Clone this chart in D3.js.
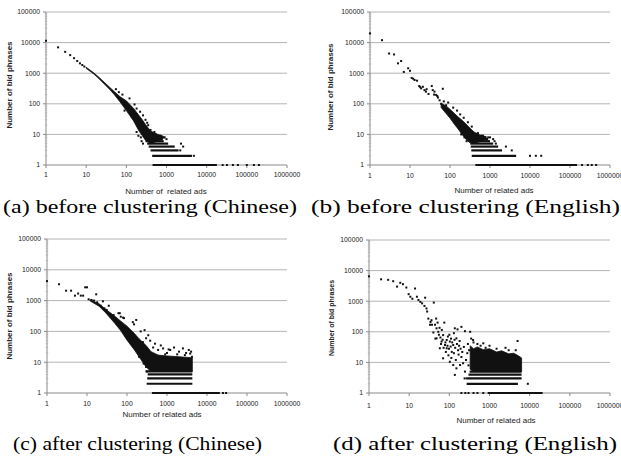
<!DOCTYPE html>
<html>
<head>
<meta charset="utf-8">
<script src="https://cdn.jsdelivr.net/npm/d3@7"></script>
<style>
  body { margin: 0; background: #fff; }
  .sans { font-family: Arial, 'Liberation Sans', sans-serif; }
  .caption { font-family: 'Liberation Serif', 'Times New Roman', serif; }
</style>
</head>
<body>
<div class="canvas"></div>
<script>
// tick values shared by all four panels
const xTicks = [1, 10, 100, 1000, 10000, 100000, 1000000];
const yTicks = [1, 10, 100, 1000, 10000, 100000];

// (a) before clustering (Chinese)
// sparse points [related ads, bid phrases]
const ptsA = [[1,11500],[2,7000],[3,5000],[4,3900],[5,3100],[6,2500],[7,2100],[8,1850],[9,1650],
  [55,300],[65,240],[80,200],[120,150],[90,60],[160,95],[180,70],[220,55],[260,42],[300,30],[330,24],
  [350,20],[280,16],[400,14],[450,11],[500,12],[550,10],[600,9],[700,9],[800,8],[850,8],[900,8],
  [200,9],[240,6],[260,5],[180,12],[230,8],[1000,7],[2300,5],[2600,4],[4800,2],[2200,3]];
// dense ribbon [related ads, low, high]
const bandA = [[10,1440,1560],[15,970,1060],[20,700,770],[30,410,470],[40,280,330],[50,200,250],
  [70,115,170],[100,60,125],[150,28,72],[200,14,44],[250,9,30],[300,6.5,21],[400,5,13],[600,6,10],[800,7,9]];
// integer rows [bid phrases, from, to]
const rowsA = [[1,450,18000],[2,440,4300],[3,400,2000],[4,360,1600],[5,330,1100],[6,300,850],
  [7,290,800],[8,280,700],[9,260,650]];
const tailA = [[25000,1],[32000,1],[45000,1],[60000,1],[100000,1],[150000,1],[200000,1]];

// (b) before clustering (English)
const ptsB = [[1,20000],[2,12000],[3,4400],[4,4100],[5,2100],[6,2500],[7,1100],[9,1450],[10,1200],
  [11,700],[12,660],[13,600],[15,570],[17,380],[18,350],[19,320],[21,360],[23,280],[25,250],[26,300],
  [29,210],[35,380],[37,280],[40,200],[41,250],[45,195],[48,180],[50,160],[55,130],[60,100],[66,310],
  [70,120],[80,90],[90,110],[120,75],[150,60],[180,45],[220,35],[280,25],[350,18],[450,10],[500,11],
  [650,9],[900,8],[1000,8],[1200,7],[190,10],[230,8],[260,6],[1400,5],[1300,6]];
const bandB = [[60,75,105],[80,48,85],[100,34,66],[130,21,48],[160,15,37],[200,10,29],[250,7,22],
  [300,5.5,17],[400,5,12],[600,6,9],[800,7,8.5]];
const rowsB = [[1,430,150000],[2,350,4500],[3,340,2000],[4,330,1600],[5,320,1200],[6,310,1000],
  [7,300,900],[8,290,800],[9,280,700]];
const tailB = [[10000,2],[14000,2],[19000,2],[3500,3],[2500,4],[200000,1],[280000,1],[350000,1],[450000,1]];

// (c) after clustering (Chinese)
const ptsC = [[1,4300],[2,3400],[3,2100],[4,2100],[5,1450],[6,1700],[7,1450],[8,1450],[9,2700],[10,2700],
  [11,1100],[13,1050],[15,1000],[17,1600],[18,880],[22,680],[25,950],[27,560],[31,500],[35,680],
  [46,340],[61,390],[66,390],[70,300],[80,280],[84,270],[140,200],[150,170],[170,235],[220,100],
  [275,110],[340,75],[300,60],[250,45],[380,50],[450,30],[500,40],[600,25],[700,35],[800,28],[1000,20],
  [1200,25],[1500,30],[2000,22],[2500,28],[3000,20],[3500,25],[4000,22],[900,18],[1800,18],[4200,15],
  [200,15],[260,9],[300,7],[320,5],[1100,26],[2800,17],[3800,19]];
const bandC = [[12,970,1070],[20,660,790],[30,390,510],[50,180,310],[70,105,215],[100,52,148],
  [150,26,88],[200,15,58],[300,7,35],[400,5,22],[600,5,17],[1000,5,16],[2000,5,15],[4300,5,14]];
const rowsC = [[1,420,21000],[2,310,4300],[3,320,4300],[4,330,4300],[5,290,4300]];
const tailC = [[25000,1],[30000,1]];

// (d) after clustering (English)
const ptsD = [[1,6500],[2,5200],[3,5000],[4,4500],[5,3000],[6,4000],[7,3600],[8.5,2800],[9.7,1700],
  [10.7,1400],[12,1200],[14,2600],[15.6,1400],[17,1100],[19,950],[21,850],[24,700],[25,1300],[27,580],
  [28,460],[30,270],[33,170],[34,210],[36,240],[37,170],[41,900],[44,170],[47,270],[48,130],[48,61],
  [51,200],[53,100],[57,135],[58,29],[64,48],[65,115],[70,78],[70,13.6],[75,200],[78,37],[86,54],
  [86,29],[95,17],[103,48],[103,10.5],[115,22],[125,37],[125,8.2],[137,130],[137,3.9],[150,61],
  [150,6.4],[160,120],[165,25],[185,8.2],[200,15],[200,145],[220,9.4],[245,5],[245,105],[270,3],
  [330,100],[390,54],[400,45],[500,40],[600,35],[800,30],[1000,35],[1500,28],[2500,30],[3000,25],
  [4500,25],[5000,50],[350,60],[700,42],
  [40,95],[45,60],[55,80],[60,65],[62,40],[68,55],[72,30],[80,45],[82,22],[90,35],[92,70],[98,28],
  [108,33],[110,60],[112,14],[118,45],[130,20],[135,55],[140,30],[145,12],[155,40],[170,18],[175,35],
  [180,50],[190,28],[210,22],[230,32],[260,12],[280,20],[290,40],[300,8],[310,25],[130,90],[100,80]];
const bandD = [[330,6,35],[400,5,28],[500,5,32],[700,5,26],[1000,5,28],[1500,5,22],[2000,5,24],
  [3000,5,19],[4000,5,20],[5000,5,17],[6300,5,14]];
const rowsD = [[1,900,21000],[2,270,5100],[3,280,6300],[4,300,6300],[5,320,6300]];
const tailD = [[200,1],[250,1],[300,1],[400,1],[500,1],[700,1],[9000,2],[240,3]];

const svg = d3.select('.canvas')
  .append('svg')
    .attr('width', 621)
    .attr('height', 457);

// panel layout (pixels) + which arrays each one draws
const panels = [
  { l: 46, r: 287, b: 165, t: 12, pts: ptsA, band: bandA, rows: rowsA, tail: tailA,
    xTitle: 'Number of  related ads', xtx: 166, xty: 194, tly: 176.5, ytx: 12, yty: 85, ytSize: 8,
    cap: '(a) before clustering (Chinese)', cx: 3, cy: 213, cw: 294 },
  { l: 370, r: 610, b: 165, t: 12, pts: ptsB, band: bandB, rows: rowsB, tail: tailB,
    xTitle: 'Number of related ads', xtx: 494, xty: 193, tly: 177.5, ytx: 333, yty: 87, ytSize: 8,
    cap: '(b) before clustering (English)', cx: 311, cy: 213, cw: 309 },
  { l: 47, r: 287, b: 393, t: 239, pts: ptsC, band: bandC, rows: rowsC, tail: tailC,
    xTitle: 'Number of related ads', xtx: 162, xty: 417, tly: 405.5, ytx: 12, yty: 316, ytSize: 8,
    cap: '(c) after clustering (Chinese)', cx: 13, cy: 450, cw: 249 },
  { l: 369, r: 610, b: 393, t: 240, pts: ptsD, band: bandD, rows: rowsD, tail: tailD,
    xTitle: 'Number of related ads', xtx: 496, xty: 423, tly: 407.5, ytx: 334, yty: 318, ytSize: 7,
    cap: '(d) after clustering (English)', cx: 333, cy: 450, cw: 284 }
];

panels.forEach(p => {
  const x = d3.scaleLog().domain([1, 1000000]).range([p.l, p.r]);
  const y = d3.scaleLog().domain([1, 100000]).range([p.b, p.t]);
  const g = svg.append('g').attr('class', 'sans');

  // gridlines
  g.selectAll('.grid')
    .data(yTicks.slice(1))
    .enter()
    .append('line')
      .attr('x1', p.l).attr('x2', p.r)
      .attr('y1', d => y(d)).attr('y2', d => y(d))
      .attr('stroke', '#b4b4b4')
      .attr('stroke-width', 1);

  // minor ticks on the y axis
  const minors = [];
  yTicks.slice(0, -1).forEach(d => { for (let k = 2; k < 10; k++) minors.push(d * k); });
  g.selectAll('.minor')
    .data(minors)
    .enter()
    .append('line')
      .attr('x1', p.l - 1.5).attr('x2', p.l + 1.5)
      .attr('y1', d => y(d)).attr('y2', d => y(d))
      .attr('stroke', '#c8c8c8')
      .attr('stroke-width', 0.6);

  // axes
  g.append('line')
    .attr('x1', p.l).attr('x2', p.l).attr('y1', p.t).attr('y2', p.b)
    .attr('stroke', '#8a8a8a');
  g.append('line')
    .attr('x1', p.l).attr('x2', p.r).attr('y1', p.b).attr('y2', p.b)
    .attr('stroke', '#8a8a8a');

  g.selectAll('.ytick')
    .data(yTicks)
    .enter()
    .append('line')
      .attr('x1', p.l - 3).attr('x2', p.l)
      .attr('y1', d => y(d)).attr('y2', d => y(d))
      .attr('stroke', '#8a8a8a');
  g.selectAll('.xtick')
    .data(xTicks)
    .enter()
    .append('line')
      .attr('x1', d => x(d)).attr('x2', d => x(d))
      .attr('y1', p.b).attr('y2', p.b + 3)
      .attr('stroke', '#8a8a8a');

  // tick labels
  g.selectAll('.ylab')
    .data(yTicks)
    .enter()
    .append('text')
      .attr('x', p.l - 6)
      .attr('y', d => y(d) + 2.4)
      .attr('text-anchor', 'end')
      .attr('font-size', '6.8px')
      .attr('fill', '#222')
      .text(d => d);
  g.selectAll('.xlab')
    .data(xTicks)
    .enter()
    .append('text')
      .attr('x', d => x(d))
      .attr('y', p.tly)
      .attr('text-anchor', 'middle')
      .attr('font-size', '6.8px')
      .attr('fill', '#222')
      .text(d => d);

  // dense ribbon
  const area = d3.area()
    .x(d => x(d[0]))
    .y0(d => y(d[1]))
    .y1(d => y(d[2]));
  g.append('path')
    .datum(p.band)
    .attr('d', area)
    .attr('fill', '#111')
    .attr('stroke', '#111')
    .attr('stroke-width', 0.8);

  // integer count rows
  g.selectAll('.row')
    .data(p.rows)
    .enter()
    .append('line')
      .attr('x1', d => x(d[1])).attr('x2', d => x(d[2]))
      .attr('y1', d => y(d[0])).attr('y2', d => y(d[0]))
      .attr('stroke', '#111')
      .attr('stroke-width', 2.2);

  // individual points
  g.selectAll('.pt')
    .data(p.pts.concat(p.tail))
    .enter()
    .append('rect')
      .attr('x', d => x(d[0]) - 1)
      .attr('y', d => y(d[1]) - 1)
      .attr('width', 2)
      .attr('height', 2)
      .attr('fill', '#111');

  // titles
  g.append('text')
    .attr('x', p.xtx)
    .attr('y', p.xty)
    .attr('text-anchor', 'middle')
    .attr('font-size', '8px')
    .attr('fill', '#222')
    .style('white-space', 'pre')
    .text(p.xTitle);
  g.append('text')
    .attr('transform', `translate(${p.ytx},${p.yty}) rotate(-90)`)
    .attr('text-anchor', 'middle')
    .attr('font-size', p.ytSize + 'px')
    .attr('font-weight', 'bold')
    .attr('fill', '#222')
    .text('Number of bid phrases');

  // caption
  svg.append('text')
    .attr('class', 'caption')
    .attr('x', p.cx)
    .attr('y', p.cy)
    .attr('font-size', '19px')
    .attr('textLength', p.cw)
    .attr('lengthAdjust', 'spacingAndGlyphs')
    .attr('fill', '#000')
    .text(p.cap);
});
</script>
</body>
</html>
